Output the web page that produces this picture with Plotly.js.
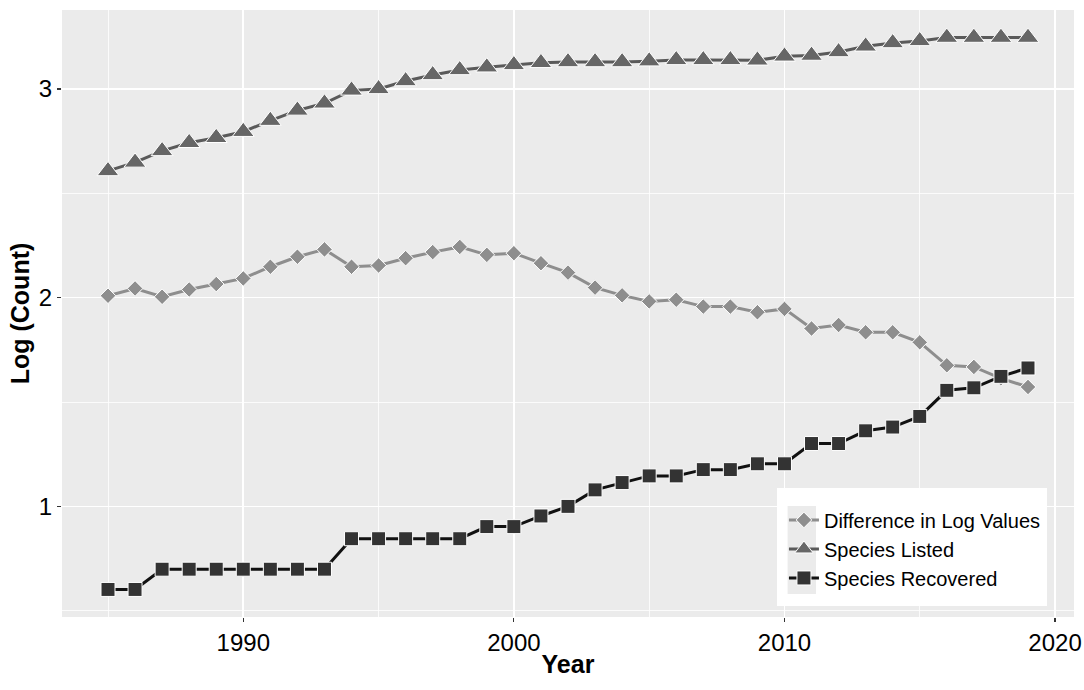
<!DOCTYPE html>
<html>
<head>
<meta charset="utf-8">
<script src="https://cdn.plot.ly/plotly-3.0.1.min.js"></script>
<style>html,body{margin:0;padding:0;background:#fff;}#chart{width:1084px;height:690px;}</style>
</head>
<body>
<div id="chart"></div>
<script>
const years = [1985,1986,1987,1988,1989,1990,1991,1992,1993,1994,1995,1996,1997,1998,1999,2000,2001,2002,2003,2004,2005,2006,2007,2008,2009,2010,2011,2012,2013,2014,2015,2016,2017,2018,2019];
const differenceLog = [2.009,2.044,2.004,2.039,2.065,2.092,2.148,2.196,2.231,2.148,2.154,2.189,2.218,2.243,2.205,2.213,2.165,2.120,2.048,2.011,1.982,1.990,1.957,1.957,1.930,1.946,1.852,1.869,1.834,1.834,1.786,1.676,1.668,1.613,1.572];
const speciesListed = [2.607,2.648,2.703,2.742,2.766,2.795,2.848,2.897,2.931,2.993,3.000,3.038,3.067,3.091,3.104,3.115,3.125,3.129,3.129,3.129,3.133,3.139,3.139,3.139,3.137,3.156,3.160,3.177,3.204,3.220,3.230,3.246,3.246,3.246,3.246];
const speciesRecovered = [0.602,0.602,0.699,0.699,0.699,0.699,0.699,0.699,0.699,0.845,0.845,0.845,0.845,0.845,0.903,0.903,0.954,1.000,1.079,1.114,1.146,1.146,1.176,1.176,1.204,1.204,1.301,1.301,1.362,1.380,1.431,1.556,1.568,1.623,1.663];
const seriesNames = ["Difference in Log Values","Species Listed","Species Recovered"];
const xTicks = [1990,2000,2010,2020];
const yTicks = [1,2,3];

const FONT = "Liberation Sans, Arial, sans-serif";

const traces = [
  {x: years, y: differenceLog, name: seriesNames[0], mode: "lines+markers", type: "scatter",
   line: {color: "#8e8e8e", width: 3},
   marker: {symbol: "diamond", size: 12, color: "#8e8e8e", line: {color: "#ffffff", width: 1}}},
  {x: years, y: speciesListed, name: seriesNames[1], mode: "lines+markers", type: "scatter",
   line: {color: "#5a5a5a", width: 3},
   marker: {symbol: "triangle-up", size: 19, color: "#666666", line: {color: "#ffffff", width: 1}}},
  {x: years, y: speciesRecovered, name: seriesNames[2], mode: "lines+markers", type: "scatter",
   line: {color: "#111111", width: 3},
   marker: {symbol: "square", size: 14, color: "#333333", line: {color: "#ffffff", width: 1}}}
];

const layout = {
  width: 1084, height: 690, autosize: false,
  margin: {l: 62, r: 10, t: 10, b: 73, pad: 0},
  paper_bgcolor: "#ffffff",
  plot_bgcolor: "#ebebeb",
  font: {family: FONT, color: "#000000"},
  showlegend: true,
  legend: {
    x: 0.7134, y: 0.192, xanchor: "left", yanchor: "top",
    bgcolor: "rgba(0,0,0,0)", borderwidth: 0,
    font: {family: FONT, size: 20, color: "#000000"},
    traceorder: "normal", tracegroupgap: 0
  },
  xaxis: {
    range: [1983.3, 2020.7], tickmode: "array", tickvals: xTicks, ticktext: xTicks.map(String),
    showgrid: true, gridcolor: "#ffffff", gridwidth: 1.6, zeroline: false, showline: false,
    ticks: "outside", ticklen: 4, tickwidth: 1.2, tickcolor: "#333333",
    tickfont: {family: FONT, size: 24, color: "#000000"},
    minor: {tickmode: "linear", tick0: 1985, dtick: 10, showgrid: true, gridcolor: "#ffffff", gridwidth: 0.8, ticks: ""},
    title: {text: "<b>Year</b>", font: {family: FONT, size: 25, color: "#000000"}, standoff: 0}
  },
  yaxis: {
    range: [0.470, 3.378], tickmode: "array", tickvals: yTicks, ticktext: yTicks.map(String),
    showgrid: true, gridcolor: "#ffffff", gridwidth: 1.6, zeroline: false, showline: false,
    ticks: "outside", ticklen: 4, tickwidth: 1.2, tickcolor: "#333333",
    tickfont: {family: FONT, size: 24, color: "#000000"},
    minor: {tickmode: "linear", tick0: 0.5, dtick: 1, showgrid: true, gridcolor: "#ffffff", gridwidth: 0.8, ticks: ""},
    title: {text: "<b>Log (Count)</b>", font: {family: FONT, size: 25, color: "#000000"}, standoff: 2}
  },
  shapes: [
    {type: "rect", xref: "paper", yref: "paper", x0: 0.7065, x1: 0.9733, y0: 0.018, y1: 0.2125,
     fillcolor: "#ffffff", line: {width: 0}, layer: "above"},
    {type: "rect", xref: "paper", yref: "paper", x0: 0.7170, x1: 0.7451, y0: 0.0379, y1: 0.1829,
     fillcolor: "#ebebeb", line: {width: 0}, layer: "above"}
  ]
};

Plotly.newPlot("chart", traces, layout, {displayModeBar: false, staticPlot: true});
</script>
</body>
</html>
